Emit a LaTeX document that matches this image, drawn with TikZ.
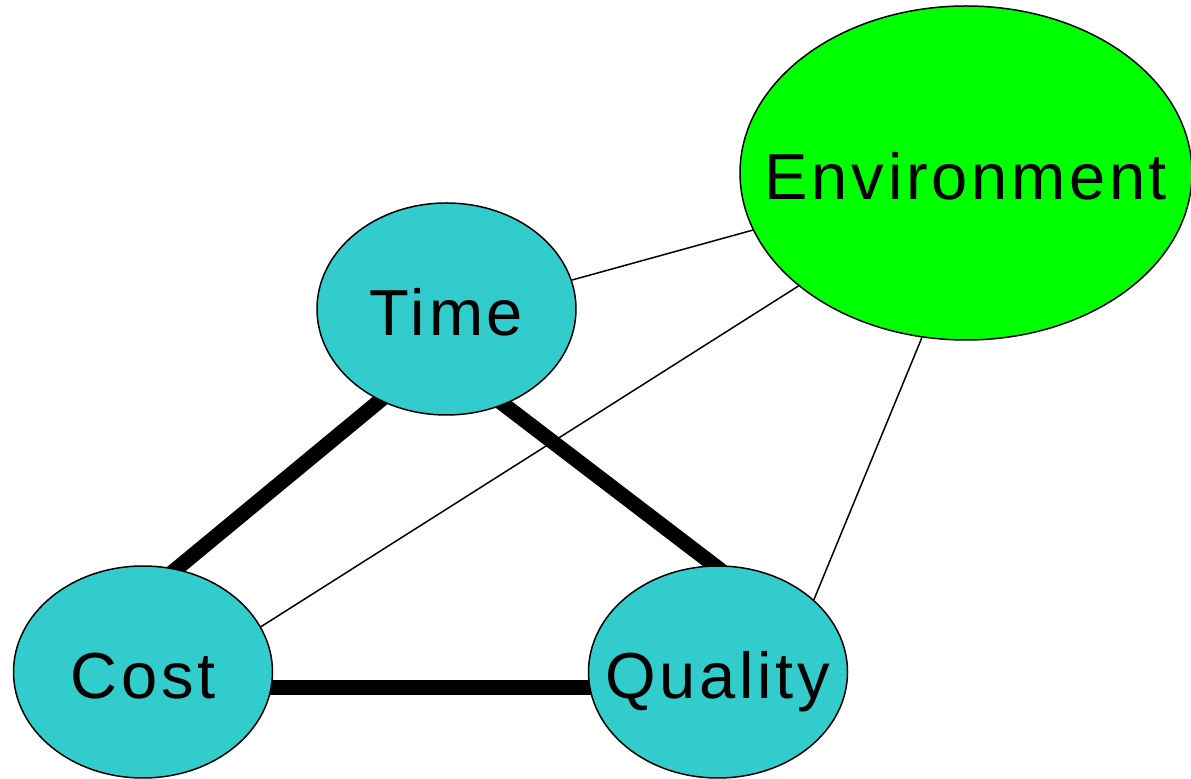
\documentclass[tikz,border=0pt]{standalone}
\usepackage{fontspec}
\setmainfont{Liberation Sans}
\newfontfamily\blobfont[LetterSpace=5.7]{Liberation Sans}
\usepackage{xcolor}
\usetikzlibrary{shapes.geometric,backgrounds}
\definecolor{tealfill}{RGB}{51,204,204}
\definecolor{greenfill}{RGB}{0,255,0}

\begin{document}
\begin{tikzpicture}[
    blob/.style={shape=ellipse, draw, line width=0.85pt, fill=tealfill, inner sep=0pt,
      minimum width=5.18cm, minimum height=4.24cm},
    word/.style={font=\blobfont\fontsize{37}{44}\selectfont, text height=30pt, text depth=0pt, inner sep=0pt},
    heavy/.style={line width=8.5pt, shorten <=-3mm, shorten >=-3mm},
    light/.style={line width=0.85pt}]
    \useasboundingbox (0,0) rectangle (23.82,15.56);

    \node[blob, label={[word]center:Time}] (time) at (8.93,9.38) {};
    \node[blob, label={[word]center:Cost}] (cost) at (2.86,2.12) {};
    \node[blob, label={[word]center:Quality}] (quality) at (14.36,2.12) {};
    \node[blob, fill=greenfill, minimum width=9.04cm, minimum height=6.68cm,
      label={[word]center:Environment}] (env) at (19.32,12.10) {};

    \begin{scope}[on background layer]
    \draw[heavy] (time.234) -- (cost.72);
    \draw[heavy] (time.301) -- (quality.92);
    \draw[heavy] (cost.353) -- (quality.187);

    \draw[light] (time.13) -- (env.195);
    \draw[light] (cost.21) -- (env.214);
    \draw[light] (quality.37) -- (env.255);
    \end{scope}
\end{tikzpicture}
\end{document}
